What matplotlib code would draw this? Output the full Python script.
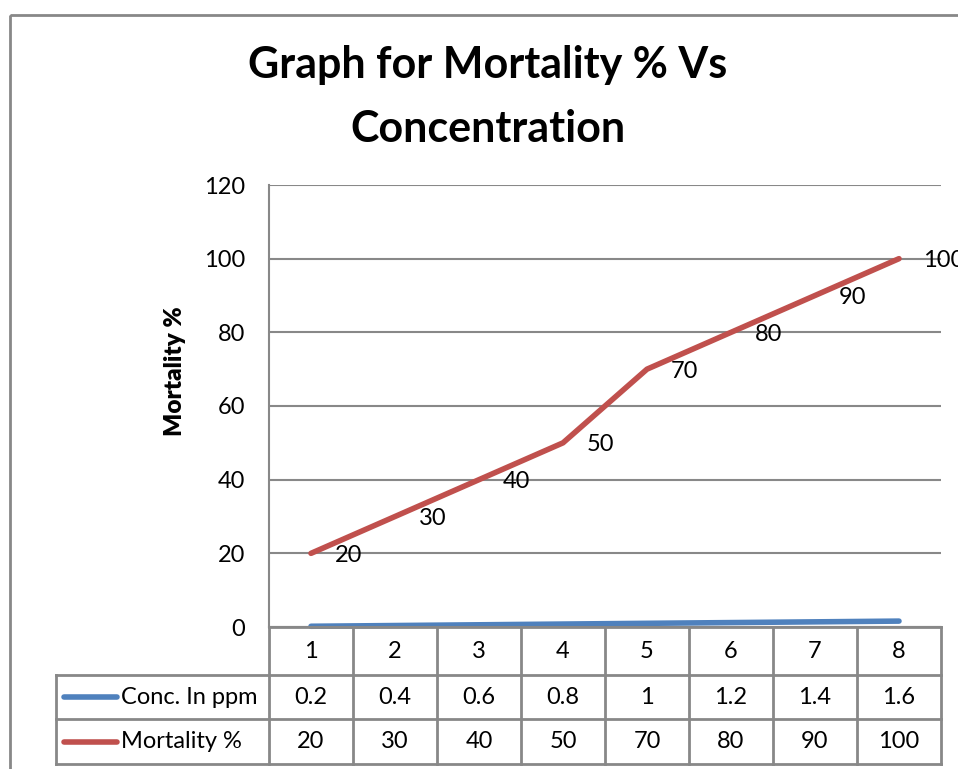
import matplotlib
matplotlib.use("Agg")
import matplotlib.pyplot as plt
from matplotlib.patches import Rectangle

# data
categories = [1, 2, 3, 4, 5, 6, 7, 8]
conc_ppm = [0.2, 0.4, 0.6, 0.8, 1, 1.2, 1.4, 1.6]
mortality = [20, 30, 40, 50, 70, 80, 90, 100]
conc_labels = ["0.2", "0.4", "0.6", "0.8", "1", "1.2", "1.4", "1.6"]
mort_labels = ["20", "30", "40", "50", "70", "80", "90", "100"]
series_names = ["Conc. In ppm", "Mortality %"]
yticks = [0, 20, 40, 60, 80, 100, 120]

blue = "#4F81BD"
red = "#C0504D"
grid_c = "#888888"
fs = 17

plt.rcParams['font.family'] = ['Lato', 'DejaVu Sans']

W, H = 958, 769
fig = plt.figure(figsize=(W / 100, H / 100), dpi=100)

# pixel layout of the plot area
px_left, px_right, px_top, px_bottom = 269, 941, 185, 627
ax = fig.add_axes([px_left / W, 1 - px_bottom / H,
                   (px_right - px_left) / W, (px_bottom - px_top) / H])
ax.set_xlim(0.5, 8.5)
ax.set_ylim(0, 120)
ax.set_yticks(yticks)
ax.set_xticks([])
ax.tick_params(axis='y', length=0, pad=17, labelsize=fs)
ax.yaxis.grid(True, color=grid_c, linewidth=1.5)
ax.set_axisbelow(True)
for s in ['top', 'right']:
    ax.spines[s].set_visible(False)
ax.spines['left'].set_color(grid_c)
ax.spines['left'].set_linewidth(1.5)
ax.spines['bottom'].set_color(grid_c)
ax.spines['bottom'].set_linewidth(1.5)

ax.plot(categories, conc_ppm, color=blue, linewidth=4, solid_capstyle='round', clip_on=False)
ax.plot(categories, mortality, color=red, linewidth=4, solid_capstyle='round', clip_on=False)

# data labels, right of each point (last one runs off the picture as in the original)
for x, y, lab in zip(categories, mortality, mort_labels):
    ax.annotate(lab, (x, y), xytext=(24, -2), textcoords='offset pixels',
                ha='left', va='center', fontsize=fs, annotation_clip=False)

ax.set_ylabel("Mortality %", fontsize=17.5, fontweight='heavy')
ax.yaxis.set_label_coords(-0.124, 0.579)

fig.text(488 / W, 1 - 97 / H, "Graph for Mortality % Vs\nConcentration",
         ha='center', va='center', fontsize=31, fontweight='bold', linespacing=1.75)

# overlay in pixel coordinates for the data table and chart border
ov = fig.add_axes([0, 0, 1, 1], facecolor='none')
ov.set_xlim(0, W)
ov.set_ylim(H, 0)
ov.axis('off')

ov.add_patch(Rectangle((10, 15), 1000, 800, fill=False, edgecolor=grid_c, linewidth=2))

col_w = (px_right - px_left) / len(categories)
rows = [627, 675, 719, 764]
lk = dict(color=grid_c, linewidth=2)
# horizontal lines
ov.plot([px_left, px_right], [rows[0], rows[0]], **lk)
for r in rows[1:]:
    ov.plot([56, px_right], [r, r], **lk)
# vertical lines
ov.plot([56, 56], [rows[1], rows[3]], **lk)
for i in range(len(categories) + 1):
    xx = px_left + i * col_w
    ov.plot([xx, xx], [rows[0], rows[3]], **lk)

cell_rows = [[str(c) for c in categories], conc_labels, mort_labels]
for ri, vals in enumerate(cell_rows):
    yc = (rows[ri] + rows[ri + 1]) / 2
    for i, v in enumerate(vals):
        ov.text(px_left + (i + 0.5) * col_w, yc, v, ha='center', va='center', fontsize=fs)

for ri, (name, col) in enumerate(zip(series_names, [blue, red])):
    yc = (rows[ri + 1] + rows[ri + 2]) / 2
    ov.plot([64, 117], [yc, yc], color=col, linewidth=4, solid_capstyle='round')
    ov.text(121, yc, name, ha='left', va='center', fontsize=fs)

fig.savefig("out.png", dpi=100)
